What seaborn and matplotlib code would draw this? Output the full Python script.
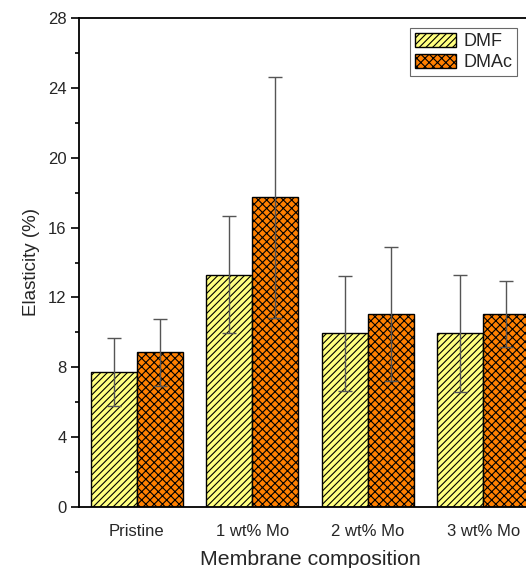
import matplotlib
matplotlib.use("Agg")
import matplotlib.pyplot as plt
import seaborn as sns
import pandas as pd
from matplotlib.ticker import MultipleLocator
from matplotlib.patches import Patch

categories = ["Pristine", "1 wt% Mo", "2 wt% Mo", "3 wt% Mo"]
solvents = ["DMF", "DMAc"]
dmf_values = [7.75, 13.3, 9.95, 9.95]
dmf_errors = [1.95, 3.35, 3.3, 3.35]
dmac_values = [8.85, 17.75, 11.05, 11.05]
dmac_errors = [1.9, 6.9, 3.85, 1.9]

colors = {"DMF": "#FFFF80", "DMAc": "#FF8000"}
hatches = {"DMF": "/////", "DMAc": "xxxx"}

df = pd.DataFrame({
    "composition": categories * 2,
    "solvent": ["DMF"] * 4 + ["DMAc"] * 4,
    "value": dmf_values + dmac_values,
})
errs = {"DMF": dmf_errors, "DMAc": dmac_errors}

sns.set_theme(style="white")
plt.rcParams["font.family"] = ["Liberation Sans", "DejaVu Sans"]
plt.rcParams["hatch.linewidth"] = 0.8

fig = plt.figure(figsize=(5.26, 5.68), dpi=100)
ax = fig.add_axes([79 / 526, 61 / 568, 462 / 526, 489 / 568])

sns.barplot(data=df, x="composition", y="value", hue="solvent",
            order=categories, hue_order=solvents, palette=colors,
            saturation=1, errorbar=None, width=0.8, edgecolor="black",
            linewidth=1.0, legend=False, ax=ax)

for cont, solv in zip(ax.containers, solvents):
    xs, ys = [], []
    for p in cont.patches:
        p.set_hatch(hatches[solv])
        p.set_edgecolor("black")
        xs.append(p.get_x() + p.get_width() / 2)
        ys.append(p.get_height())
    ax.errorbar(xs, ys, yerr=errs[solv], fmt="none", ecolor="#555555",
                elinewidth=1.0, capsize=5, capthick=1.0, zorder=5)

ax.set_xlim(-0.5, 3.5)
ax.set_ylim(0, 28)
ax.yaxis.set_major_locator(MultipleLocator(4))
ax.yaxis.set_minor_locator(MultipleLocator(2))
ax.tick_params(axis="y", which="major", left=True, length=6, width=1.2,
               labelsize=12, direction="out", pad=3, color="black")
ax.tick_params(axis="y", which="minor", left=True, length=3, width=1.2,
               direction="out", color="black")
ax.tick_params(axis="x", bottom=False, labelsize=12, pad=6)

for s in ["left", "bottom", "top", "right"]:
    ax.spines[s].set_visible(True)
    ax.spines[s].set_color("black")
    ax.spines[s].set_linewidth(1.3)

ax.set_xlabel("Membrane composition", fontsize=15.3, labelpad=8)
ax.set_ylabel("Elasticity (%)", fontsize=13.5, labelpad=6)

handles = [Patch(facecolor=colors[s], edgecolor="black", hatch=hatches[s],
                 label=s) for s in solvents]
leg = fig.legend(handles=handles, loc="upper right",
                 bbox_to_anchor=(517 / 526, 1 - 28 / 568), fontsize=13,
                 frameon=True, fancybox=False, edgecolor="#444444",
                 handlelength=2.3, handleheight=0.85, handletextpad=0.4,
                 borderpad=0.25, labelspacing=0.2, borderaxespad=0)
leg.get_frame().set_linewidth(0.8)

fig.savefig("out.png", dpi=100)
